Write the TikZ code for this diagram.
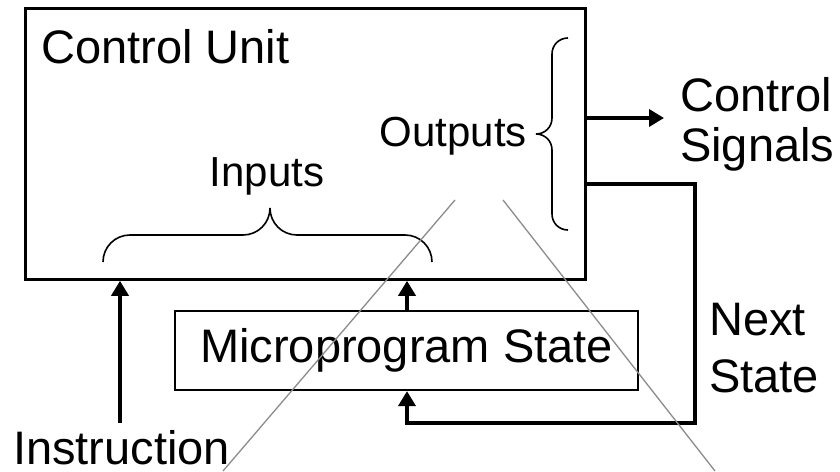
\documentclass[tikz,border=0pt]{standalone}
\usepackage{fontspec}
\setmainfont{Liberation Sans}
\usetikzlibrary{arrows.meta}
\begin{document}
\begin{tikzpicture}[x=1pt,y=-1pt,
  bigtxt/.style={inner sep=0pt,font=\fontsize{47}{54}\selectfont},
  midtxt/.style={inner sep=0pt,font=\fontsize{42}{48}\selectfont},
  unitbox/.style={draw,line width=2.8pt,inner sep=0pt},
  statebox/.style={draw,line width=2.2pt,inner sep=0pt},
  sigarrow/.style={line width=3.6pt,-{Triangle[length=15pt,width=17pt]}},
  bracket/.style={line width=1.6pt},
  guide/.style={draw=black!45,line width=1.3pt}]
\useasboundingbox[fill=white] (0,0) rectangle (840,471);

% control unit and its label
\node[unitbox,anchor=north west,minimum width=560pt,minimum height=271pt] (cu) at (24,7) {};
\node[bigtxt,anchor=base west] (cul) at (41,63) {Control Unit};

% microprogram state register
\node[statebox,minimum width=463pt,minimum height=79pt] (mps) at (406.5,350.5)
  {\fontsize{47}{54}\selectfont Microprogram State};

% brace over the inputs
\draw[bracket] (103,262) .. controls (103,247) and (115,235) .. (130,235)
  -- (243,235) .. controls (258,235) and (270,223) .. (270,208)
  .. controls (270,223) and (282,235) .. (297,235)
  -- (405,235) .. controls (420,235) and (432,247) .. (432,262);
\node[midtxt,anchor=base] (inl) at (267,186) {Inputs};

% brace beside the outputs
\draw[bracket] (568,38) .. controls (559,38) and (552,45) .. (552,54)
  -- (552,118) .. controls (552,127) and (545,134) .. (536,134)
  .. controls (545,134) and (552,141) .. (552,150)
  -- (552,214) .. controls (552,223) and (559,230) .. (568,230);
\node[midtxt,anchor=base east] (outl) at (527,146) {Outputs};

% control signals out of the unit
\coordinate (csy) at (0,118);
\coordinate (cstip) at (664,118);
\draw[sigarrow] (cu.east |- csy) -- (cstip);
\node[bigtxt,font=\fontsize{47}{50}\selectfont,anchor=base west,align=left] (csl) at (680,161) {Control\\Signals};

% next state fed back to the register
\coordinate (nsy) at (0,184);
\coordinate (nsr) at (695,423);
\coordinate (mx) at (407,0);
\draw[sigarrow] (cu.east |- nsy) -- (nsr |- nsy) -- (nsr) -- (nsr -| mx) -- (mps.south -| mx);
\node[bigtxt,font=\fontsize{47}{57}\selectfont,anchor=base west,align=left] (nsl) at (709,392) {Next\\State};

% register into the unit
\draw[sigarrow] (mps.north -| mx) -- (cu.south -| mx);

% instruction into the unit
\node[bigtxt,anchor=base west] (ins) at (13,464) {Instruction};
\coordinate (ia) at (120,423);
\draw[sigarrow] (ia) -- (cu.south -| ia);

% thin grey guide lines
\coordinate (g1a) at (455,200);
\coordinate (g1b) at (223,471);
\coordinate (g2a) at (503,200);
\coordinate (g2b) at (715,471);
\draw[guide] (g1a) -- (g1b);
\draw[guide] (g2a) -- (g2b);
\end{tikzpicture}
\end{document}
